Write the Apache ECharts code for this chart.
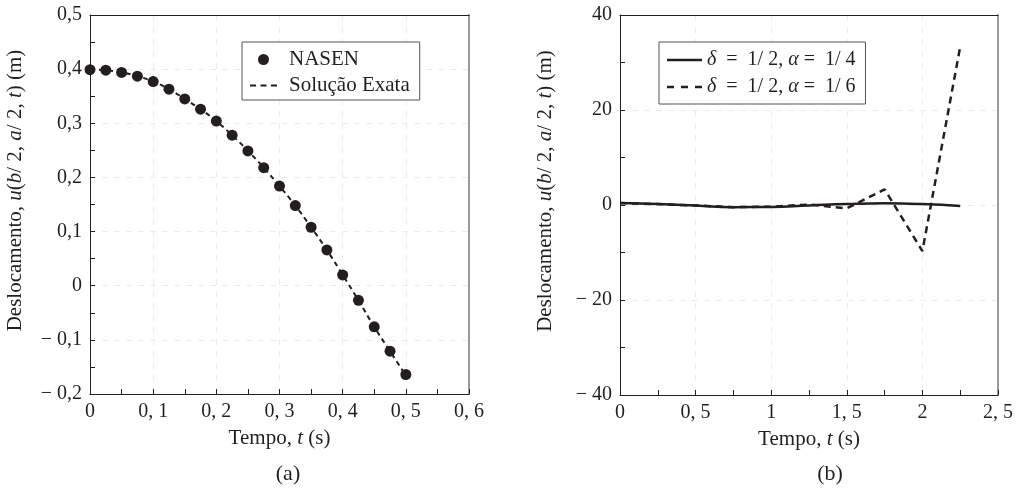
<!DOCTYPE html>
<html>
<head>
    <meta charset="utf-8">
    <title>Deslocamento</title>
    <script src="https://cdn.jsdelivr.net/npm/echarts@6/dist/echarts.min.js"></script>
    <style>
        html, body { margin: 0; padding: 0; background: #fff; }
    </style>
</head>
<body>
    <div id="main" style="width: 1016px;height:490px;"></div>
    <script type="text/javascript">
        // (a) NASEN x solucao exata
        var tempoA = [0, 0.025, 0.05, 0.075, 0.1, 0.125, 0.15, 0.175, 0.2, 0.225, 0.25,
            0.275, 0.3, 0.325, 0.35, 0.375, 0.4, 0.425, 0.45, 0.475, 0.5];
        var nasen = [0.399, 0.398, 0.394, 0.387, 0.377, 0.363, 0.345, 0.326, 0.304, 0.278, 0.249,
            0.218, 0.184, 0.148, 0.108, 0.066, 0.020, -0.027, -0.076, -0.121, -0.164];
        var exata = [0.400, 0.398, 0.394, 0.387, 0.377, 0.363, 0.345, 0.326, 0.304, 0.278, 0.249,
            0.218, 0.184, 0.148, 0.108, 0.066, 0.020, -0.027, -0.076, -0.121, -0.166];

        // (b) newmark
        var tempoB = [0, 0.25, 0.5, 0.75, 1.0, 1.25, 1.5, 1.75, 2.0, 2.25];
        var alfa4 = [0.4, 0.2, -0.1, -0.45, -0.4, -0.1, 0.2, 0.35, 0.2, -0.2];
        var alfa6 = [0.4, 0.2, -0.1, -0.45, -0.35, 0.1, -0.7, 3.3, -9.7, 33.3];

        var ticksXa = ['0', '0, 1', '0, 2', '0, 3', '0, 4', '0, 5', '0, 6'];
        var ticksYa = ['\u2212 0,2', '\u2212 0,1', '0', '0,1', '0,2', '0,3', '0,4', '0,5'];
        var ticksXb = ['0', '0, 5', '1', '1, 5', '2', '2, 5'];
        var ticksYb = ['\u2212 40', '\u2212 20', '0', '20', '40'];

        var fonte = 'Liberation Serif, Times New Roman, serif';
        var preto = '#231f20';

        // icones da legenda (tracejado / continuo)
        var icoTrac = 'path://M0,0h6v2h-6z M10.5,0h6v2h-6z M21,0h6v2h-6z';
        var icoTrac2 = 'path://M0,0h7v2.3h-7z M14,0h7v2.3h-7z M28,0h7v2.3h-7z';
        var icoCont = 'path://M0,0h35v2.5h-35z';

        function pares(x, y) {
            var arr = [];
            for (var i = 0; i < x.length; i++) {
                arr.push([x[i], y[i]]);
            }
            return arr;
        }

        function rotulo(lista, min, passo) {
            return function (v) {
                var i = Math.round((v - min) / passo);
                return lista[i] !== undefined ? lista[i] : '';
            };
        }

        var richNome = {
            i: { fontStyle: 'italic', fontFamily: fonte, fontSize: 21, color: preto }
        };
        var richLeg = {
            i: { fontStyle: 'italic', fontFamily: fonte, fontSize: 20, color: preto }
        };
        var nomeY = 'Deslocamento, {i|u}({i|b}/ 2, {i|a}/ 2, {i|t}) (m)';

        function eixoX(grid, max, passo, lista) {
            return {
                type: 'value', gridIndex: grid, min: 0, max: max, interval: passo,
                name: 'Tempo, {i|t} (s)', nameLocation: 'middle', nameGap: 34,
                nameTextStyle: { fontFamily: fonte, fontSize: 21, color: preto, rich: richNome },
                axisLine: { onZero: false, lineStyle: { color: preto, width: 1 } },
                axisTick: { inside: true, length: 5, lineStyle: { color: preto } },
                minorTick: { show: true, splitNumber: 2, length: 5, lineStyle: { color: preto } },
                axisLabel: { fontFamily: fonte, fontSize: 20, color: preto, margin: 8,
                    formatter: rotulo(lista, 0, passo) },
                splitLine: { show: true, lineStyle: { color: '#ececec', type: [6, 6] } }
            };
        }

        function eixoY(grid, min, max, passo, lista, gap) {
            return {
                type: 'value', gridIndex: grid, min: min, max: max, interval: passo,
                name: nomeY, nameLocation: 'middle', nameGap: gap, nameRotate: 90,
                nameTextStyle: { fontFamily: fonte, fontSize: 21, color: preto, rich: richNome,
                    padding: [0, 0, 0, 28] },
                axisLine: { onZero: false, lineStyle: { color: preto, width: 1 } },
                axisTick: { inside: true, length: 5, lineStyle: { color: preto } },
                minorTick: { show: true, splitNumber: 2, length: 5, lineStyle: { color: preto } },
                axisLabel: { fontFamily: fonte, fontSize: 20, color: preto, margin: 8,
                    formatter: rotulo(lista, min, passo) },
                splitLine: { show: true, lineStyle: { color: '#ececec', type: [6, 6] } }
            };
        }

        function borda(grid, pos, cor, larg) {
            return {
                type: 'value', gridIndex: grid, position: pos, min: 0, max: 1,
                axisLine: { show: true, onZero: false, lineStyle: { color: cor, width: larg } },
                axisTick: { show: false }, axisLabel: { show: false }, splitLine: { show: false }
            };
        }

        var myChart = echarts.init(document.getElementById('main'));

        var option = {
            animation: false,
            backgroundColor: '#fff',
            title: [
                { text: '(a)', left: 283, top: 458, textAlign: 'center',
                    textStyle: { fontFamily: fonte, fontSize: 22, fontWeight: 'normal', color: preto } },
                { text: '(b)', left: 825, top: 458, textAlign: 'center',
                    textStyle: { fontFamily: fonte, fontSize: 22, fontWeight: 'normal', color: preto } }
            ],
            grid: [
                { left: 90, right: 547, top: 15, bottom: 96 },
                { left: 620, right: 16, top: 15, bottom: 95 }
            ],
            legend: [
                {
                    data: [{ name: 'NASEN', icon: 'circle' }, { name: 'Solução Exata', icon: icoTrac }],
                    orient: 'vertical',
                    left: 242, top: 42, padding: [7, 10, 4, 8], itemGap: 5,
                    itemWidth: 27, itemHeight: 11,
                    borderColor: '#555', borderWidth: 1, backgroundColor: '#fff',
                    textStyle: { fontFamily: fonte, fontSize: 21, color: preto, padding: [0, 0, 0, 7] }
                },
                {
                    data: [{ name: 'a4', icon: icoCont }, { name: 'a6', icon: icoTrac2 }],
                    orient: 'vertical',
                    left: 659, top: 42, padding: [8, 10, 7, 8], itemGap: 7,
                    itemWidth: 35, itemHeight: 10,
                    borderColor: '#555', borderWidth: 1, backgroundColor: '#fff',
                    formatter: function (n) {
                        return n === 'a4' ? '{i|δ}  =  1/ 2, {i|α} =  1/ 4' : '{i|δ}  =  1/ 2, {i|α} =  1/ 6';
                    },
                    textStyle: { fontFamily: fonte, fontSize: 20, color: preto, rich: richLeg }
                }
            ],
            xAxis: [
                eixoX(0, 0.6, 0.1, ticksXa),
                borda(0, 'top', preto, 1),
                eixoX(1, 2.5, 0.5, ticksXb),
                borda(1, 'top', preto, 1)
            ],
            yAxis: [
                eixoY(0, -0.2, 0.5, 0.1, ticksYa, 64),
                borda(0, 'right', '#999', 2),
                eixoY(1, -40, 40, 20, ticksYb, 64),
                borda(1, 'right', '#999', 2)
            ],
            series: [
                {
                    name: 'Solução Exata', type: 'line', xAxisIndex: 0, yAxisIndex: 0,
                    data: pares(tempoA, exata), symbol: 'none', smooth: true,
                    lineStyle: { color: preto, width: 2, type: [5, 4] }, itemStyle: { color: preto }
                },
                {
                    name: 'NASEN', type: 'scatter', xAxisIndex: 0, yAxisIndex: 0,
                    data: pares(tempoA, nasen), symbol: 'circle', symbolSize: 11,
                    itemStyle: { color: preto, opacity: 1 }
                },
                {
                    name: 'a4', type: 'line', xAxisIndex: 2, yAxisIndex: 2,
                    data: pares(tempoB, alfa4), symbol: 'none', smooth: true,
                    lineStyle: { color: preto, width: 2.5 }, itemStyle: { color: preto }
                },
                {
                    name: 'a6', type: 'line', xAxisIndex: 2, yAxisIndex: 2,
                    data: pares(tempoB, alfa6), symbol: 'none',
                    lineStyle: { color: preto, width: 2.5, type: [7, 5] }, itemStyle: { color: preto }
                }
            ]
        };

        myChart.setOption(option);
    </script>
</body>
</html>
